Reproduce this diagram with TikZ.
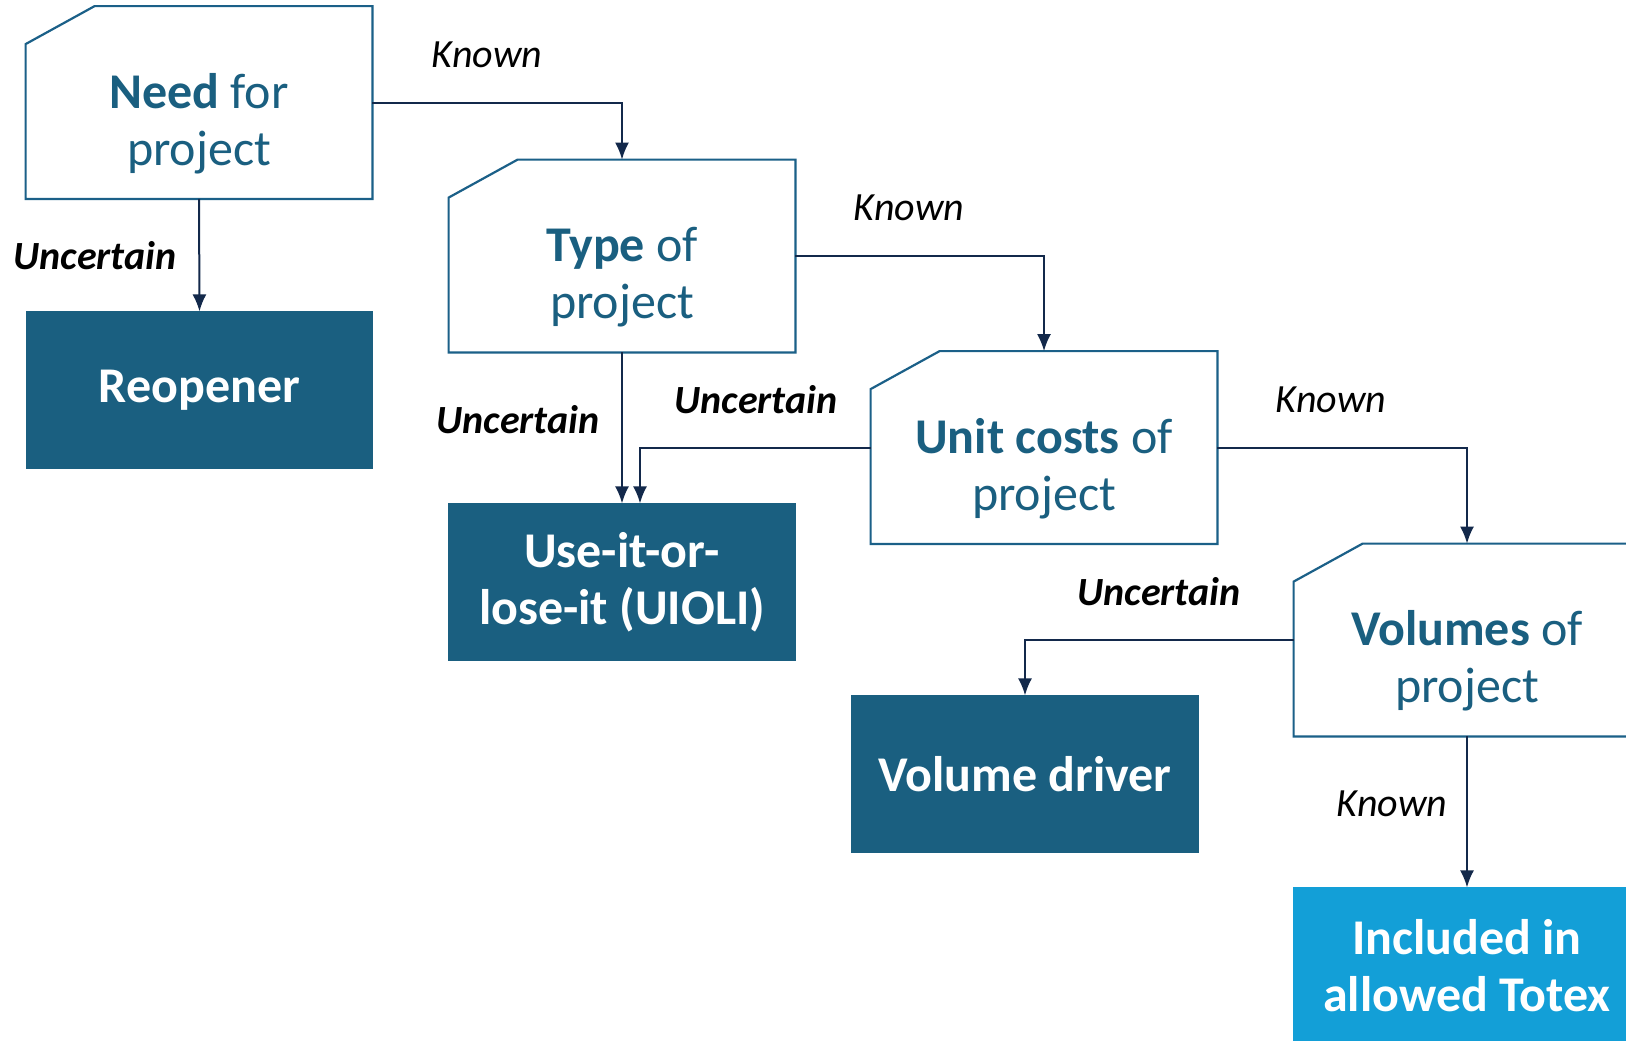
\documentclass[tikz,border=0pt]{standalone}
\usepackage{fontspec}
\setmainfont{Carlito}
\usetikzlibrary{arrows.meta,calc}
\definecolor{dkblue}{HTML}{1A5F80}
\definecolor{ltblue}{HTML}{139FD7}
\definecolor{edgec}{HTML}{1B6088}
\definecolor{arrowc}{HTML}{13294B}
\begin{document}
\begin{tikzpicture}[x=0.5pt,y=-0.5pt,
  qbox/.style={rectangle, minimum width=173pt, minimum height=96pt, inner sep=0pt},
  qtext/.style={align=center, text=dkblue, font=\fontsize{25}{28.5}\selectfont, inner sep=0pt},
  fbox/.style={rectangle, fill=#1, draw=#1, line width=0.6pt, minimum width=173pt, minimum height=78pt, text=white, align=center, font=\bfseries\fontsize{25}{28.5}\selectfont, inner sep=0pt},
  conn/.style={draw=arrowc, line width=1pt, -{Latex[length=8.5pt,width=7pt]}},
  klbl/.style={font=\itshape\fontsize{20}{22}\selectfont, text=black, inner sep=0pt},
  ulbl/.style={font=\bfseries\itshape\fontsize{20}{22}\selectfont, text=black, inner sep=0pt},
  outline/.style={draw=edgec, line width=1.1pt}
]
\clip (0,0) rectangle (1626,1040);
\fill[white] (0,0) rectangle (1626,1040);

% question boxes (chamfered)
\node[qbox] (need) at (199,102.5) {};
\node[qbox] (type) at (622,256) {};
\node[qbox] (unit) at (1044,447.5) {};
\node[qbox] (vol)  at (1467,640) {};
\foreach \n in {need,type,unit,vol}{
  \draw[outline] ([yshift=-19pt]\n.north west) -- ([xshift=34.5pt]\n.north west) -- (\n.north east) -- (\n.south east) -- (\n.south west) -- cycle;
}
\node[qtext] (need-t) at ([yshift=-10.5pt]need.center) {\textbf{Need} for\\project};
\node[qtext] (type-t) at ([yshift=-10.5pt]type.center) {\textbf{Type} of\\project};
\node[qtext] (unit-t) at ([yshift=-10.5pt]unit.center) {\textbf{Unit costs} of\\project};
\node[qtext] (vol-t)  at ([yshift=-10.5pt]vol.center)  {\textbf{Volumes} of\\project};

% outcome boxes
\node[fbox=dkblue] (reop) at (199.5,390) {Reopener};
\node[fbox=dkblue] (uioli) at (622,582) {Use-it-or-\\lose-it (UIOLI)};
\node[fbox=dkblue] (vdrv) at (1025,774) {Volume driver};
\node[fbox=ltblue] (incl) at (1467,966) {Included in\\allowed Totex};

% connectors
\draw[conn] (need.east) -| (type.north);
\draw[conn] (type.east) -| (unit.north);
\draw[conn] (unit.east) -| (vol.north);
\draw[conn] (need.south) -- (reop.north);
\draw[conn] (type.south) -- (uioli.north);
\draw[conn] (unit.west) -| ([xshift=9pt]uioli.north);
\draw[conn] (vol.west) -| (vdrv.north);
\draw[conn] (vol.south) -- (incl.north);

% labels
\node[klbl] (k1) at (487,55) {Known};
\node[klbl] (k2) at (909,208) {Known};
\node[klbl] (k3) at (1331,400) {Known};
\node[klbl] (k4) at (1392,804) {Known};
\node[ulbl] (u1) at (95,256) {Uncertain};
\node[ulbl] (u2) at (518,420) {Uncertain};
\node[ulbl] (u3) at (756,400) {Uncertain};
\node[ulbl] (u4) at (1159,592) {Uncertain};
\end{tikzpicture}
\end{document}
